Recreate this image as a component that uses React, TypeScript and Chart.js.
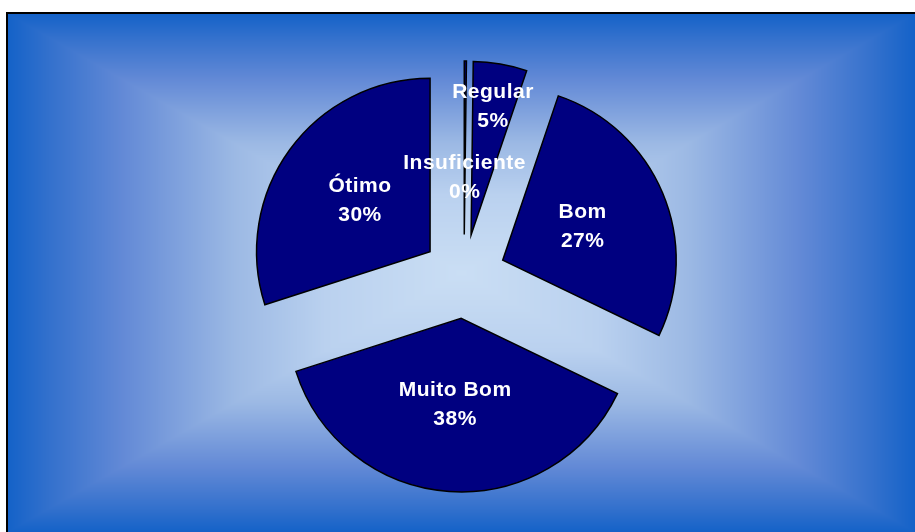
import React, { useEffect, useRef } from 'react';
import { Chart, registerables } from 'chart.js';

Chart.register(...registerables);

// ---- data ----
const categories = ['Insuficiente', 'Regular', 'Bom', 'Muito Bom', 'Ótimo'];
const values = [0.2, 5, 27, 38, 30];

// ---- style ----
const SLICE_COLOR = '#000080';
const EXPLODE = 42;
const RADIUS = 173.5;
const LABEL_RADIUS = [0.33, 0.75, 0.5, 0.5, 0.5];
const FONT = 'bold 21px "Liberation Sans", Arial, sans-serif';
const LINE_H = 29;

const BG_STOPS: [number, number[]][] = [
  [0, [202, 222, 244]],
  [0.3, [186, 209, 239]],
  [0.5, [156, 185, 228]],
  [0.75, [98, 137, 214]],
  [0.9, [54, 114, 205]],
  [1, [20, 98, 200]],
];

function bgColor(t: number): number[] {
  for (let i = 1; i < BG_STOPS.length; i++) {
    const [o1, c1] = BG_STOPS[i];
    const [o0, c0] = BG_STOPS[i - 1];
    if (t <= o1) {
      const f = (t - o0) / (o1 - o0);
      return [0, 1, 2].map((k) => c0[k] + (c1[k] - c0[k]) * f);
    }
  }
  return BG_STOPS[BG_STOPS.length - 1][1];
}

let bgCache: HTMLCanvasElement | null = null;

const backgroundPlugin = {
  id: 'rectGradientBg',
  beforeDraw(chart: any) {
    const ctx = chart.ctx as CanvasRenderingContext2D;
    const W = chart.width;
    const H = chart.height;
    if (!bgCache || bgCache.width !== W || bgCache.height !== H) {
      const off = document.createElement('canvas');
      off.width = W;
      off.height = H;
      const octx = off.getContext('2d')!;
      const img = octx.createImageData(W, H);
      const cx = W / 2;
      const cy = H / 2;
      for (let y = 0; y < H; y++) {
        const ty = Math.abs(y + 0.5 - cy) / cy;
        for (let x = 0; x < W; x++) {
          const tx = Math.abs(x + 0.5 - cx) / cx;
          const c = bgColor(Math.min(1, Math.max(tx, ty)));
          const p = (y * W + x) * 4;
          img.data[p] = c[0];
          img.data[p + 1] = c[1];
          img.data[p + 2] = c[2];
          img.data[p + 3] = 255;
        }
      }
      octx.putImageData(img, 0, 0);
      bgCache = off;
    }
    ctx.save();
    ctx.drawImage(bgCache, 0, 0);
    ctx.restore();
  },
};

const explodePlugin = {
  id: 'explodeSlices',
  beforeDatasetsDraw(chart: any) {
    const meta = chart.getDatasetMeta(0);
    meta.data.forEach((arc: any) => {
      if (arc.__exploded) return;
      const orig = arc.draw.bind(arc);
      arc.draw = (ctx: CanvasRenderingContext2D) => {
        const half = (arc.startAngle + arc.endAngle) / 2;
        ctx.save();
        ctx.translate(Math.cos(half) * EXPLODE, Math.sin(half) * EXPLODE);
        orig(ctx);
        ctx.restore();
      };
      arc.__exploded = true;
    });
  },
};

const labelPlugin = {
  id: 'sliceLabels',
  afterDatasetsDraw(chart: any) {
    const ctx = chart.ctx as CanvasRenderingContext2D;
    const meta = chart.getDatasetMeta(0);
    const data = chart.data.datasets[0].data as number[];
    const total = data.reduce((a, b) => a + b, 0);
    ctx.save();
    ctx.font = FONT;
    (ctx as any).letterSpacing = '0.5px';
    ctx.fillStyle = '#ffffff';
    ctx.textAlign = 'center';
    ctx.textBaseline = 'middle';
    meta.data.forEach((arc: any, i: number) => {
      const half = (arc.startAngle + arc.endAngle) / 2;
      const r = EXPLODE + arc.outerRadius * LABEL_RADIUS[i];
      const x = arc.x + Math.cos(half) * r;
      const y = arc.y + Math.sin(half) * r;
      const pct = Math.round((data[i] / total) * 100) + '%';
      ctx.fillText(chart.data.labels[i], x, y - LINE_H / 2);
      ctx.fillText(pct, x, y + LINE_H / 2);
    });
    ctx.restore();
  },
};

export default function App() {
  const ref = useRef<HTMLCanvasElement | null>(null);

  useEffect(() => {
    if (!ref.current) return;
    const chart = new Chart(ref.current, {
      type: 'pie',
      data: {
        labels: categories,
        datasets: [
          {
            data: values,
            backgroundColor: SLICE_COLOR,
            borderColor: '#000000',
            borderWidth: 1.5,
            borderJoinStyle: 'miter',
            radius: RADIUS,
          } as any,
        ],
      },
      options: {
        animation: false,
        responsive: false,
        maintainAspectRatio: false,
        devicePixelRatio: 1,
        events: [],
        radius: RADIUS,
        layout: { padding: { left: 5, right: 0, top: 7, bottom: 0 } },
        plugins: {
          legend: { display: false },
          tooltip: { enabled: false },
          title: { display: false },
        },
      } as any,
      plugins: [backgroundPlugin, explodePlugin, labelPlugin],
    });
    return () => chart.destroy();
  }, []);

  return (
    <div
      style={{
        position: 'fixed',
        left: 6,
        top: 12,
        width: 907,
        height: 518,
        borderTop: '2px solid #000',
        borderLeft: '2px solid #000',
        overflow: 'hidden',
      }}
    >
      <canvas ref={ref} width={907} height={518} style={{ display: 'block', width: 907, height: 518 }} />
    </div>
  );
}
